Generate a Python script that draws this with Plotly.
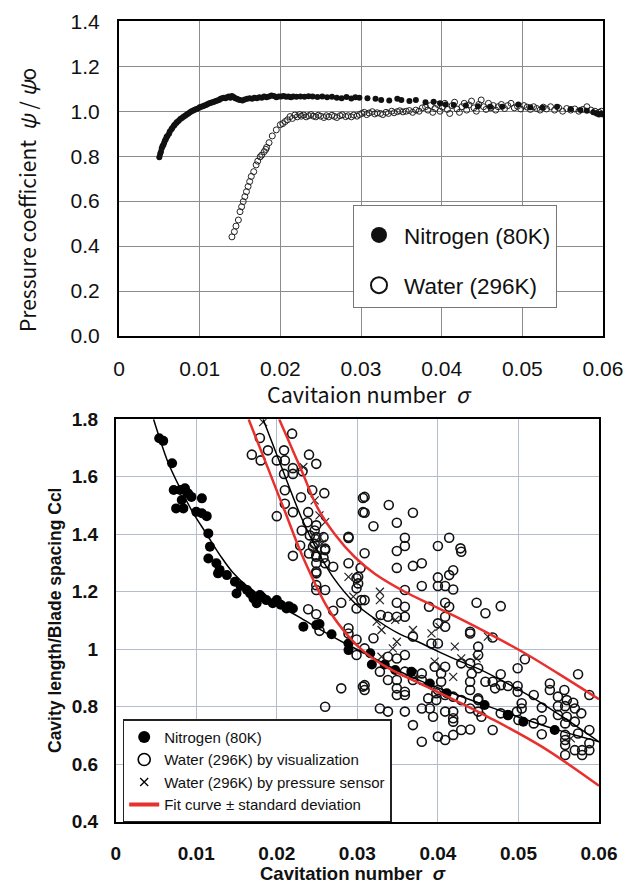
import plotly.graph_objects as go

W, H = 627, 889

# ---------------- Top chart data ----------------
xticks = [0, 0.01, 0.02, 0.03, 0.04, 0.05, 0.06]
xticklabels = ["0", "0.01", "0.02", "0.03", "0.04", "0.05", "0.06"]

n2_top_sigma = [0.0050,0.0051,0.0052,0.0053,0.0054,0.0055,0.0056,0.0057,0.0058,0.0059,
                0.0060,0.0062,0.0063,0.0065,0.0066,0.0068,0.0069,0.0071,0.0072,0.0074,
                0.0076,0.0078,0.0080,0.0082,0.0084,0.0086,0.0088,0.0090,0.0092,0.0094,
                0.0096,0.0098,0.0100,0.0102,0.0104,0.0106,0.0108,0.0110,0.0112,0.0114,
                0.0116,0.0118,0.0120,0.0122,0.0124,0.0126,0.0128,0.0130,0.0132,0.0134,
                0.0136,0.0138,0.0140,0.0142,0.0144,0.0146,0.0148,0.0150,0.0153,0.0156,
                0.0159,0.0162,0.0165,0.0168,0.0171,0.0174,0.0177,0.0180,0.0183,0.0186,
                0.0189,0.0192,0.0195,0.0198,0.0201,0.0204,0.0207,0.0210,0.0213,0.0216,
                0.0220,0.0225,0.0230,0.0235,0.0240,0.0246,0.0252,0.0258,0.0264,0.0270,
                0.0276,0.0282,0.0288,0.0293,0.0298,0.0308,0.0318,0.0325,0.0335,0.0345,
                0.0350,0.0360,0.0368,0.0380,0.0390,0.0398,0.0405,0.0415,0.0430,0.0445,
                0.0460,0.0475,0.0495,0.0510,0.0525,0.0543,0.0560,0.0572,0.0580,0.0588,
                0.0592,0.0595,0.0598,0.0600]
n2_top_psi = [0.795,0.81,0.82,0.835,0.845,0.85,0.86,0.87,0.875,0.885,
              0.89,0.90,0.91,0.92,0.925,0.935,0.94,0.948,0.952,0.958,
              0.965,0.97,0.975,0.98,0.985,0.99,0.995,1.0,1.003,1.007,
              1.01,1.012,1.018,1.02,1.022,1.025,1.028,1.032,1.035,1.038,
              1.04,1.042,1.045,1.048,1.05,1.055,1.058,1.06,1.058,1.062,
              1.065,1.06,1.068,1.063,1.058,1.055,1.052,1.05,1.048,1.052,
              1.055,1.058,1.055,1.06,1.058,1.062,1.06,1.065,1.062,1.066,
              1.07,1.068,1.062,1.066,1.065,1.068,1.064,1.066,1.062,1.065,
              1.064,1.066,1.064,1.067,1.065,1.063,1.066,1.062,1.064,1.06,
              1.058,1.063,1.057,1.062,1.06,1.058,1.055,1.05,1.048,1.055,
              1.05,1.045,1.05,1.04,1.042,1.035,1.03,1.028,1.025,1.022,
              1.02,1.02,1.03,1.018,1.015,1.02,1.01,1.005,1.002,0.995,
              0.99,0.985,0.99,0.985]

water_top_sigma = [0.0140,0.0143,0.0145,0.0148,0.0150,0.0152,0.0154,0.0156,0.0158,0.0160,
                   0.0162,0.0164,0.0167,0.0170,0.0172,0.0175,0.0177,0.0180,0.0182,0.0183,
                   0.0186,0.0190,0.0195,0.0200,0.0203,0.0206,0.0209,0.0212,0.0215,0.0218,
                   0.0221,0.0224,0.0226,0.0229,0.0232,0.0235,0.0238,0.0241,0.0244,0.0247,
                   0.0250,0.0254,0.0257,0.0260,0.0264,0.0267,0.0270,0.0274,0.0277,0.0281,
                   0.0284,0.0288,0.0291,0.0295,0.0298,0.0301,0.0304,0.0307,0.0310,0.0314,
                   0.0317,0.0320,0.0324,0.0327,0.0331,0.0334,0.0338,0.0341,0.0345,0.0348,
                   0.0352,0.0356,0.0360,0.0364,0.0368,0.0372,0.0376,0.0380,0.0383,0.0386,
                   0.0389,0.0392,0.0395,0.0398,0.0401,0.0404,0.0407,0.0410,0.0413,0.0416,
                   0.0419,0.0422,0.0425,0.0428,0.0431,0.0434,0.0437,0.0440,0.0443,0.0446,
                   0.0449,0.0452,0.0455,0.0458,0.0461,0.0464,0.0467,0.0470,0.0474,0.0478,
                   0.0482,0.0486,0.0490,0.0494,0.0498,0.0502,0.0506,0.0510,0.0514,0.0518,
                   0.0522,0.0526,0.0530,0.0535,0.0540,0.0545,0.0550,0.0555,0.0560,0.0565,
                   0.0570,0.0575,0.0580,0.0585,0.0590,0.0595,0.0598]
water_top_psi = [0.441,0.464,0.489,0.516,0.553,0.575,0.598,0.62,0.642,0.665,
                 0.687,0.71,0.731,0.761,0.778,0.797,0.805,0.82,0.83,0.839,
                 0.86,0.89,0.917,0.94,0.945,0.954,0.962,0.976,0.968,0.983,
                 0.975,0.985,0.978,0.983,0.975,0.98,0.985,0.978,0.975,0.982,
                 0.978,0.972,0.98,0.975,0.982,0.977,0.972,0.98,0.984,0.976,
                 0.98,0.975,0.983,0.978,0.985,0.99,0.995,0.985,0.992,0.998,
                 0.988,0.993,0.99,0.985,0.995,0.99,1.0,0.993,0.998,1.002,
                 0.997,1.0,1.003,0.995,1.005,1.0,1.015,1.02,1.005,1.025,
                 0.995,1.012,1.03,1.0,1.018,1.035,1.008,0.99,1.025,1.04,
                 1.01,0.995,1.02,1.035,1.005,1.028,1.045,1.015,1.0,1.03,
                 1.05,1.02,1.008,1.035,1.015,1.025,1.005,1.02,1.03,1.012,
                 1.025,1.035,1.015,1.022,1.01,1.025,1.018,1.008,1.02,1.012,
                 1.005,1.018,1.01,1.02,1.005,1.015,1.0,1.012,1.005,1.01,
                 1.0,1.008,1.02,1.005,1.0,0.995,1.0]

# ---------------- Bottom chart data ----------------
n2_bot_sigma = [0.0054,0.0059,0.0070,0.0072,0.0080,0.0086,0.0090,0.0075,0.0084,0.0082,
                0.0094,0.0107,0.0100,0.0107,0.0113,0.0115,0.0117,0.0115,0.0125,0.0129,
                0.0127,0.0138,0.0148,0.0150,0.0155,0.0163,0.0167,0.0171,0.0175,0.0179,
                0.0182,0.0187,0.0195,0.0200,0.0205,0.0212,0.0215,0.0220,0.0233,0.0249,
                0.0253,0.0268,0.0289,0.0289,0.0316,0.0318,0.0334,0.0347,0.0367,0.0390,
                0.0411,0.0458,0.0487,0.0506,0.0545]
n2_bot_ccl = [1.734,1.725,1.647,1.554,1.554,1.560,1.542,1.490,1.490,1.519,
              1.530,1.525,1.478,1.473,1.463,1.403,1.357,1.316,1.299,1.276,
              1.264,1.258,1.235,1.194,1.220,1.206,1.194,1.177,1.160,1.189,
              1.180,1.171,1.160,1.171,1.155,1.142,1.150,1.142,1.078,1.084,
              1.088,1.052,1.020,0.997,0.986,0.947,0.947,0.928,0.922,0.881,
              0.847,0.806,0.771,0.748,0.719]

water_vis_sigma = [0.0219,0.0179,0.0189,0.0209,0.0169,0.0180,0.0200,0.0210,0.0240,0.0249,
                   0.0220,0.0209,0.0220,0.0232,0.0244,0.0259,0.0210,0.0210,0.0230,0.0220,
                   0.0200,0.0239,0.0238,0.0249,0.0247,0.0231,0.0241,0.0249,0.0258,0.0229,
                   0.0247,0.0260,0.0289,0.0240,0.0249,0.0220,0.0258,0.0307,0.0307,0.0245,
                   0.0260,0.0249,0.0260,0.0270,0.0249,0.0289,0.0301,0.0301,0.0249,0.0249,
                   0.0249,0.0260,0.0249,0.0289,0.0299,0.0299,0.0280,0.0270,0.0239,0.0249,
                   0.0299,0.0305,0.0289,0.0289,0.0299,0.0299,0.0253,0.0280,0.0260,0.0307,
                   0.0309,0.0309,0.0339,0.0320,0.0349,0.0369,0.0359,0.0359,0.0349,0.0309,
                   0.0400,0.0414,0.0428,0.0429,0.0369,0.0380,0.0349,0.0304,0.0400,0.0414,
                   0.0419,0.0380,0.0400,0.0409,0.0419,0.0359,0.0349,0.0359,0.0389,0.0409,
                   0.0414,0.0448,0.0309,0.0329,0.0338,0.0349,0.0359,0.0409,0.0400,0.0409,
                   0.0440,0.0320,0.0309,0.0338,0.0349,0.0359,0.0328,0.0338,0.0349,0.0359,
                   0.0369,0.0369,0.0349,0.0359,0.0359,0.0349,0.0309,0.0309,0.0380,0.0380,
                   0.0404,0.0400,0.0388,0.0398,0.0398,0.0409,0.0419,0.0429,0.0440,0.0440,
                   0.0450,0.0440,0.0328,0.0338,0.0359,0.0380,0.0390,0.0394,0.0409,0.0419,
                   0.0419,0.0419,0.0369,0.0380,0.0400,0.0409,0.0419,0.0429,0.0440,0.0369,
                   0.0392,0.0400,0.0440,0.0450,0.0450,0.0429,0.0440,0.0442,0.0396,0.0409,
                   0.0404,0.0459,0.0478,0.0468,0.0508,0.0499,0.0450,0.0478,0.0574,0.0588,
                   0.0459,0.0468,0.0478,0.0487,0.0499,0.0471,0.0499,0.0519,0.0539,0.0539,
                   0.0557,0.0549,0.0560,0.0568,0.0549,0.0558,0.0570,0.0529,0.0504,0.0504,
                   0.0450,0.0450,0.0454,0.0478,0.0487,0.0498,0.0500,0.0519,0.0529,0.0549,
                   0.0560,0.0558,0.0570,0.0578,0.0529,0.0574,0.0588,0.0558,0.0558,0.0558,
                   0.0558,0.0570,0.0579,0.0588,0.0579,0.0588,0.0468]
water_vis_ccl = [1.750,1.735,1.692,1.692,1.677,1.657,1.657,1.657,1.677,1.645,
                 1.630,1.610,1.610,1.619,1.553,1.543,1.553,1.506,1.529,1.477,
                 1.463,1.477,1.442,1.431,1.413,1.413,1.396,1.390,1.390,1.361,
                 1.367,1.350,1.387,1.333,1.327,1.325,1.318,1.526,1.477,1.357,
                 1.345,1.322,1.299,1.287,1.264,1.391,1.252,1.229,1.299,1.270,
                 1.223,1.206,1.206,1.299,1.247,1.212,1.162,1.134,1.139,1.122,
                 1.142,1.171,1.073,1.055,1.034,0.980,1.064,0.864,0.800,0.870,
                 1.530,1.475,1.502,1.428,1.440,1.475,1.388,1.359,1.342,1.334,
                 1.359,1.388,1.351,1.339,1.290,1.299,1.283,1.283,1.250,1.258,
                 1.275,1.220,1.220,1.220,1.208,1.206,1.162,1.148,1.148,1.162,
                 1.148,1.162,1.171,1.119,1.113,1.113,1.113,1.113,1.090,1.078,
                 1.061,1.038,1.003,0.974,0.968,0.980,0.922,0.893,0.893,0.922,
                 0.916,0.893,0.864,0.852,0.841,0.841,0.875,0.858,0.916,0.893,
                 0.887,0.858,0.829,0.847,0.823,0.841,0.835,0.823,0.887,0.858,
                 0.823,0.794,0.794,0.783,0.783,0.794,0.794,0.765,0.783,0.783,
                 0.760,0.748,0.736,0.678,0.696,0.684,0.702,0.719,0.721,1.044,
                 1.020,1.020,1.055,1.009,0.980,0.951,0.951,0.916,0.939,0.939,
                 0.916,1.125,1.150,1.041,0.965,0.934,0.934,0.913,0.913,0.841,
                 0.887,0.887,0.875,0.872,0.872,0.864,0.852,0.841,0.881,0.858,
                 0.858,0.835,0.823,0.814,0.802,0.802,0.794,0.797,0.812,0.794,
                 0.829,0.783,0.765,0.777,0.771,0.783,0.754,0.742,0.754,0.771,
                 0.765,0.742,0.748,0.777,0.704,0.707,0.719,0.702,0.684,0.667,
                 0.632,0.649,0.649,0.649,0.632,0.673,0.719]

water_ps_sigma = [0.0183,0.0233,0.0247,0.0253,0.0260,0.0253,0.0256,0.0247,0.0289,0.0295,
                  0.0328,0.0328,0.0347,0.0324,0.0330,0.0369,0.0392,0.0402,0.0344,0.0349,
                  0.0330,0.0396,0.0419,0.0429,0.0448,0.0421,0.0462,0.0565]
water_ps_ccl = [1.790,1.634,1.518,1.466,1.442,1.390,1.367,1.350,1.252,1.183,
                1.200,1.171,1.102,1.096,1.067,1.067,1.055,1.078,1.003,1.026,
                0.974,0.957,0.904,0.968,0.968,1.009,1.044,0.690]

n2_fit_sigma = [0.0047,0.0055,0.0065,0.0080,0.0095,0.0113,0.0130,0.0146,0.0165,0.0187,
                0.0210,0.0229,0.0253,0.0285,0.0309,0.0340,0.0380,0.0420,0.0458,0.0506,
                0.0545,0.0600]
n2_fit_ccl = [1.80,1.73,1.65,1.56,1.48,1.40,1.325,1.265,1.215,1.175,
              1.14,1.11,1.07,1.02,0.986,0.94,0.888,0.845,0.806,0.758,
              0.722,0.678]

water_fit_sigma = [0.0183,0.0205,0.0231,0.0251,0.0270,0.0297,0.0325,0.0351,0.0380,0.0402,
                   0.0430,0.0452,0.0490,0.0529,0.0560,0.0600]
water_fit_ccl = [1.80,1.64,1.455,1.34,1.25,1.16,1.10,1.055,1.02,0.99,
                 0.955,0.93,0.875,0.812,0.755,0.678]

upper_sigma = [0.0203,0.0231,0.0251,0.0272,0.0297,0.0322,0.0359,0.0388,0.0421,0.0458,
               0.0508,0.0549,0.0600]
upper_ccl = [1.80,1.62,1.49,1.40,1.32,1.262,1.20,1.16,1.115,1.062,
             0.986,0.916,0.826]

lower_sigma = [0.0165,0.0189,0.0210,0.0231,0.0264,0.0289,0.0309,0.0338,0.0380,0.0429,
               0.0462,0.0529,0.0600]
lower_ccl = [1.80,1.63,1.48,1.33,1.14,1.045,0.99,0.935,0.878,0.812,
             0.765,0.661,0.525]

# ---------------- Figure ----------------
fig = go.Figure()
CJK = "Noto Sans CJK JP"
ARIAL = "Liberation Sans"

# top traces
fig.add_trace(go.Scatter(x=water_top_sigma, y=water_top_psi, mode="markers",
                         marker=dict(symbol="circle-open", size=6, color="#222", line=dict(width=1)),
                         showlegend=False, xaxis="x", yaxis="y"))
fig.add_trace(go.Scatter(x=n2_top_sigma, y=n2_top_psi, mode="markers",
                         marker=dict(symbol="circle", size=6, color="#111"),
                         showlegend=False, xaxis="x", yaxis="y"))
fig.add_trace(go.Scatter(x=[None], y=[None], mode="markers", name="Nitrogen (80K)",
                         marker=dict(symbol="circle", size=16, color="#111"),
                         legend="legend", legendgroup="a", xaxis="x", yaxis="y"))
fig.add_trace(go.Scatter(x=[None], y=[None], mode="markers", name="Water (296K)",
                         marker=dict(symbol="circle-open", size=16, color="#111", line=dict(width=2)),
                         legend="legend", legendgroup="b", xaxis="x", yaxis="y"))

# bottom traces
fig.add_trace(go.Scatter(x=water_vis_sigma, y=water_vis_ccl, mode="markers",
                         marker=dict(symbol="circle-open", size=9, color="#111", line=dict(width=1.6)),
                         showlegend=False, xaxis="x2", yaxis="y2"))
fig.add_trace(go.Scatter(x=water_ps_sigma, y=water_ps_ccl, mode="markers",
                         marker=dict(symbol="x-thin-open", size=8, color="#222", line=dict(width=1.2)),
                         showlegend=False, xaxis="x2", yaxis="y2"))
fig.add_trace(go.Scatter(x=n2_bot_sigma, y=n2_bot_ccl, mode="markers",
                         marker=dict(symbol="circle", size=10, color="#000"),
                         showlegend=False, xaxis="x2", yaxis="y2"))
for sx, sy, col, wd in [(n2_fit_sigma, n2_fit_ccl, "#000", 1.5),
                        (water_fit_sigma, water_fit_ccl, "#000", 1.5),
                        (upper_sigma, upper_ccl, "#e8312f", 2.5),
                        (lower_sigma, lower_ccl, "#e8312f", 2.5)]:
    fig.add_trace(go.Scatter(x=sx, y=sy, mode="lines", line=dict(color=col, width=wd, shape="spline"),
                             showlegend=False, xaxis="x2", yaxis="y2"))

fig.add_trace(go.Scatter(x=[None], y=[None], mode="markers", name="Nitrogen (80K)",
                         marker=dict(symbol="circle", size=12, color="#000"),
                         legend="legend2", xaxis="x2", yaxis="y2"))
fig.add_trace(go.Scatter(x=[None], y=[None], mode="markers", name="Water (296K) by visualization",
                         marker=dict(symbol="circle-open", size=12, color="#000", line=dict(width=1.6)),
                         legend="legend2", xaxis="x2", yaxis="y2"))
fig.add_trace(go.Scatter(x=[None], y=[None], mode="markers", name="Water (296K) by pressure sensor",
                         marker=dict(symbol="x-thin-open", size=8, color="#000", line=dict(width=1.3)),
                         legend="legend2", xaxis="x2", yaxis="y2"))
fig.add_trace(go.Scatter(x=[None], y=[None], mode="lines", name="Fit curve ± standard deviation",
                         line=dict(color="#e8312f", width=4),
                         legend="legend2", xaxis="x2", yaxis="y2"))

tr = "rgba(0,0,0,0)"
fig.update_layout(
    width=W, height=H, margin=dict(l=0, r=0, t=0, b=0, autoexpand=False),
    paper_bgcolor="white", plot_bgcolor="white",
    xaxis=dict(domain=[119/W, 603/W], range=[0, 0.06], tickvals=xticks, ticktext=xticklabels,
               showgrid=True, gridcolor="#8c8c8c", gridwidth=1, zeroline=False,
               showline=True, linecolor="#000", linewidth=2, mirror=True, automargin=False,
               ticks="outside", ticklen=13, tickcolor=tr,
               tickfont=dict(family=ARIAL, size=21, color="#111"), anchor="y"),
    yaxis=dict(domain=[1-336/H, 1-21.3/H], range=[0, 1.4], dtick=0.2, tickformat=".1f",
               showgrid=True, gridcolor="#8c8c8c", gridwidth=1, zeroline=False,
               showline=True, linecolor="#000", linewidth=2, mirror=True, automargin=False,
               ticks="outside", ticklen=13, tickcolor=tr,
               tickfont=dict(family=ARIAL, size=21, color="#111"), anchor="x"),
    xaxis2=dict(domain=[115.7/W, 599/W], range=[0, 0.06], tickvals=xticks, ticktext=xticklabels,
                showgrid=True, gridcolor="#b4bccf", gridwidth=1, zeroline=False,
                showline=True, linecolor="#000", linewidth=1.5, mirror=True, automargin=False,
                ticks="outside", ticklen=14, tickcolor=tr,
                tickfont=dict(family=ARIAL, size=19, color="#111", weight="bold"), anchor="y2"),
    yaxis2=dict(domain=[1-821.7/H, 1-419.3/H], range=[0.4, 1.8], dtick=0.2,
                showgrid=True, gridcolor="#b4bccf", gridwidth=1, zeroline=False,
                showline=True, linecolor="#000", linewidth=1.5, mirror=True, automargin=False,
                ticks="outside", ticklen=12, tickcolor=tr,
                tickfont=dict(family=ARIAL, size=19, color="#111", weight="bold"), anchor="x2"),
    legend=dict(x=353/W, y=1-205/H, xanchor="left", yanchor="top",
                bgcolor="white", bordercolor="#777", borderwidth=1,
                font=dict(family=ARIAL, size=22.5, color="#111"),
                title=dict(text="&nbsp;", font=dict(size=6)),
                tracegroupgap=18, itemsizing="trace", itemwidth=40),
    legend2=dict(x=122.7/W, y=1-719.3/H, xanchor="left", yanchor="top",
                 bgcolor="white", bordercolor="#222", borderwidth=1.5,
                 font=dict(family=ARIAL, size=15, color="#111"),
                 tracegroupgap=0, itemsizing="trace"),
    annotations=[
        dict(text="Pressure coefficient  <i>ψ</i> / <i>ψ</i>o", x=27/W, y=1-200/H, xref="paper", yref="paper",
             textangle=-90, showarrow=False, xanchor="center", yanchor="middle",
             font=dict(family=CJK, size=21, color="#111")),
        dict(text="Cavitaion number  <i>σ</i>", x=369/W, y=1-393/H, xref="paper", yref="paper",
             showarrow=False, xanchor="center", yanchor="middle",
             font=dict(family=CJK, size=21.5, color="#111")),
        dict(text="Cavity length/Blade spacing Ccl", x=55/W, y=1-621/H, xref="paper", yref="paper",
             textangle=-90, showarrow=False, xanchor="center", yanchor="middle",
             font=dict(family=ARIAL, size=17.5, color="#111", weight="bold")),
        dict(text="Cavitation number  <i>σ</i>", x=353/W, y=1-873/H, xref="paper", yref="paper",
             showarrow=False, xanchor="center", yanchor="middle",
             font=dict(family=ARIAL, size=18.5, color="#111", weight="bold")),
    ],
)

fig.write_html("out.html", config={"displayModeBar": False},
               post_script="document.body.style.margin='0';")
